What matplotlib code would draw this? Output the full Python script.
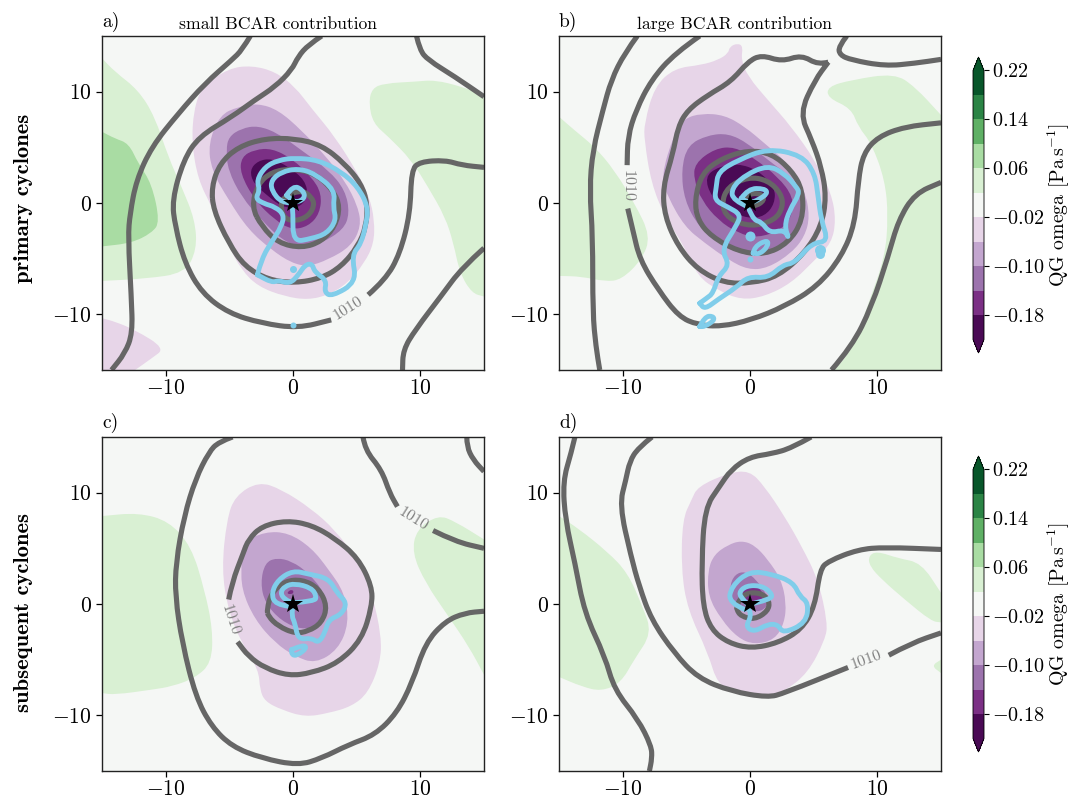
import numpy as np
import matplotlib
matplotlib.use('Agg')
import matplotlib.pyplot as plt
from matplotlib.colors import ListedColormap, BoundaryNorm
from matplotlib.path import Path
from matplotlib.patches import PathPatch
from matplotlib.colorbar import ColorbarBase

plt.rcParams['font.family'] = ['cmr10']
plt.rcParams['mathtext.fontset'] = 'cm'
plt.rcParams['axes.formatter.use_mathtext'] = True
plt.rcParams['axes.unicode_minus'] = True

levels = [-0.22, -0.18, -0.14, -0.10, -0.06, -0.02, 0.02, 0.06, 0.10, 0.14, 0.18, 0.22]
band_colors = ['#4a0a55', '#7b3085', '#9c73ad', '#c3a6cf', '#e7d5e8', '#f5f7f5',
               '#d9f0d3', '#a9dca3', '#5fb065', '#2b8445', '#08562a']
cbar_ticks = [-0.18, -0.10, -0.02, 0.06, 0.14, 0.22]
cbar_labels = ['$-0.18$', '$-0.10$', '$-0.02$', '$0.06$', '$0.14$', '$0.22$']
axis_ticks = [-10, 0, 10]
axis_labels = ['$-10$', '$0$', '$10$']

# ---------- panel a ----------
a_fills = [
 (0.04, [(-15,13.0),(-14.0,11.8),(-12.15,10.15),(-10.85,7.75),(-9.8,4.15),(-8.75,1.45),(-7.7,-1.5),(-7.55,-4.2),(-8.5,-6.3),(-11.6,-6.8),(-15,-7.0)]),
 (0.08, [(-15,6.4),(-14,5.8),(-12.9,5.35),(-12.15,3.55),(-11.1,1.75),(-10.45,-1.7),(-11.1,-2.7),(-12.7,-3.6),(-15,-3.9)]),
 (0.04, [(6.2,10.3),(7.2,10.75),(9.6,10.9),(11.15,11.05),(13.25,10.45),(15,9.7),(15,-8.4),(14.05,-8.1),(13.1,-6.3),(12.6,-3.6),(11.95,-1.25),(10.6,1.45),(9.3,3.85),(7.5,5.95),(6.3,7.15),(5.95,8.95)]),
 (-0.04, [(-15,-10.35),(-14,-10.65),(-12.4,-11.4),(-10.05,-13.05),(-11.1,-13.95),(-12.4,-15),(-15,-15)]),
 (-0.04, [(-5.05,12.1),(-3.25,12.35),(-1.4,11.8),(0.15,10.45),(1.45,8.5),(3.3,5.95),(5.1,2.65),(6.0,0.55),(6.4,-1.55),(6.35,-3.65),(5.6,-5.4),(4.3,-7.2),(2.8,-8.25),(1.2,-8.7),(-0.65,-8.4),(-2.75,-7.5),(-4.05,-6.0),(-5.05,-3.9),(-6.4,-0.3),(-7.45,2.1),(-7.95,5.35),(-7.8,8.35),(-7.15,10.45)]),
 (-0.08, [(-5.75,7.9),(-4.3,8.65),(-2.75,8.95),(-1.15,8.35),(0.65,6.55),(2.5,4.3),(4.05,2.05),(5.1,-0.3),(5.35,-2.1),(4.55,-3.9),(2.75,-5.1),(1.2,-5.7),(-0.1,-5.4),(-1.7,-4.2),(-3.5,-2.4),(-5.05,0.25),(-6.4,2.95),(-6.65,5.35)]),
 (-0.12, [(-5.05,5.95),(-4.05,6.7),(-2.75,6.95),(-1.15,6.25),(0.65,4.75),(2.8,2.95),(4.1,1.15),(4.45,-0.95),(3.95,-2.4),(2.25,-3.6),(0.7,-4.05),(-0.9,-3.3),(-2.45,-1.55),(-4.05,0.55),(-5.1,2.95),(-5.25,4.75)]),
 (-0.16, [(-4.05,4.15),(-3.0,4.8),(-1.65,4.9),(-0.1,4.0),(1.45,2.35),(2.25,0.85),(2.1,-0.95),(1.2,-2.1),(-0.1,-2.4),(-1.4,-1.55),(-3.0,0.25),(-4.15,2.65)]),
 (-0.20, [(-3.4,2.95),(-2.75,3.8),(-1.65,4.0),(-0.35,3.25),(0.95,2.05),(1.2,0.55),(0.4,-0.5),(-0.9,-0.35),(-2.2,0.85),(-3.1,1.75)]),
]
a_open = [
 [(-3.35,15),(-4.0,13.75),(-4.8,12.85),(-6.9,10.75),(-9.0,8.05),(-11.1,5.05),(-12.3,2.05),(-12.8,-0.95),(-12.95,-3.05),(-12.7,-8.4),(-12.6,-11.7),(-13.2,-13.5),(-14.25,-15)],
 [(2.25,15),(1.2,14.2),(0.4,13.15),(-0.1,11.95),(-1.4,10.45),(-3.0,9.25),(-4.8,7.75),(-7.4,5.95),(-8.6,3.85),(-9.5,0.25),(-9.25,-2.1),(-8.5,-5.4),(-7.15,-8.1),(-5.05,-9.9),(-2.45,-10.8),(0.4,-11.25),(3.0,-10.5)],
 [(5.9,-8.25),(7.25,-6.9),(8.4,-4.55),(9.2,-0.95),(9.3,2.95),(9.95,3.7),(11.95,3.85),(13.25,3.4),(15,3.2)],
 [(9.7,15),(9.95,13.75),(10.6,12.85),(12.7,11.35),(15,9.55)],
 [(15,-4.05),(13.25,-5.85),(11.7,-8.25),(9.6,-11.4),(8.65,-13.2),(8.6,-15)],
]
a_closed = [
 [(-6.4,1.45),(-5.75,3.55),(-4.3,5.05),(-2.2,5.8),(0.15,5.8),(2.25,5.2),(4.05,3.55),(5.35,1.75),(5.85,-0.05),(5.75,-2.1),(5.1,-3.9),(3.8,-5.7),(2.25,-6.75),(0.15,-7.2),(-1.95,-6.9),(-3.8,-5.7),(-5.05,-3.6),(-6.25,-0.65)],
 [(-3.25,-0.35),(-2.75,1.75),(-1.65,2.8),(-0.1,3.1),(1.75,2.65),(3.15,1.15),(3.7,-0.35),(3.3,-2.1),(2.25,-3.45),(0.7,-4.05),(-1.15,-3.6),(-2.45,-2.1)],
 [(-1.0,0),(-0.5,0.7),(0.7,1.15),(1.45,0.55),(1.7,-0.2),(1.2,-1.2),(0.15,-1.65),(-0.75,-1.35)],
]
a_blue = [
 [(-2.8,-6.45),(-2.45,-4.95),(-1.65,-3.45),(-0.9,-2.1),(-0.7,-1.05),(-1.4,-0.35),(-2.3,-0.05),(-2.95,0.4),(-2.6,1.15),(-2.85,2.05),(-2.2,3.25),(-1.15,3.85),(0.15,4.05),(2.0,3.85),(3.8,2.8),(5.1,1.45),(5.9,-0.35),(5.75,-1.85),(5.35,-3.65),(4.6,-4.7),(5.0,-7.1),(3.05,-8.4),(2.45,-8.0),(2.65,-6.95),(1.7,-6.2),(1.5,-5.45),(0.95,-5.55),(0.4,-6.5),(-0.25,-7.25),(-1.15,-6.95),(-1.65,-7.15),(-2.8,-6.45)],
 [(-0.1,0),(-0.9,0),(-1.7,1.15),(-1.7,2.05),(-0.9,2.8),(0.4,3.1),(1.7,2.65),(3.3,1.15),(3.15,-0.35),(3.4,-1.55),(2.65,-2.75),(1.45,-3.2),(0.0,-3.5),(0.0,-0.8),(-0.1,0)],
 [(-0.5,0.7),(0,1.6),(0.8,1.15),(0.95,0.4),(0.15,0),(-0.5,0.7)],
]
a_dots = [(0,-5.95,7),(0,-10.95,6)]
a_label = [(4.35,-9.45,32)]

# ---------- panel b ----------
b_fills = [
 (0.04, [(-15,7.75),(-13.8,6.55),(-12.2,5.05),(-10.65,2.95),(-9.05,-0.05),(-7.8,-3.0),(-8.5,-5.1),(-10.1,-6.9),(-11.4,-7.05),(-13.25,-6.6),(-15,-6.55)]),
 (0.04, [(6.1,10.45),(7.95,11.05),(11.35,11.65),(12.95,10.45),(15,7.9),(15,-15),(6.65,-15),(8.0,-13.2),(9.3,-9.0),(10.6,-4.85),(10.85,-1.2),(10.6,2.05),(9.55,5.35),(8.5,6.85),(7.95,8.5),(6.1,9.45)]),
 (-0.04, [(-1.6,14.05),(-0.95,14.35),(-0.55,14.05),(-0.7,12.85),(-0.15,11.35),(1.4,9.25),(3.25,6.85),(5.1,3.85),(6.4,0.85),(6.75,-1.55),(6.4,-3.6),(5.1,-5.1),(3.25,-7.2),(1.15,-8.4),(-0.7,-8.7),(-2.5,-7.85),(-4.1,-6.6),(-5.15,-3.9),(-6.7,-1.2),(-7.75,1.75),(-8.3,5.65),(-8.3,7.15),(-7.5,10.45),(-5.95,12.1),(-3.8,12.4),(-2.5,12.85),(-1.7,13.45)]),
 (-0.08, [(-5.15,7.6),(-3.8,8.05),(-2.0,7.9),(-0.4,6.85),(1.15,5.35),(3.0,3.55),(4.3,1.15),(4.7,-1.2),(4.3,-3.0),(3.25,-4.5),(1.4,-5.85),(-0.15,-6.0),(-1.7,-5.1),(-3.55,-3.6),(-5.15,-2.1),(-6.45,0.55),(-7.0,2.35),(-5.95,6.25)]),
 (-0.12, [(-4.9,5.2),(-3.3,6.1),(-1.7,6.25),(-0.15,5.35),(1.4,3.85),(3.25,2.35),(4.05,0.55),(4.3,-0.65),(3.75,-2.7),(2.2,-4.2),(0.6,-4.8),(-0.95,-4.5),(-2.5,-3.6),(-4.05,-2.1),(-5.15,0.25),(-5.4,2.95)]),
 (-0.16, [(-4.35,3.55),(-2.75,4.9),(-1.2,5.05),(0.35,4.0),(2.2,2.35),(3.4,0.55),(3.3,-1.2),(2.45,-2.4),(0.6,-3.15),(-0.95,-2.7),(-2.5,-1.55),(-3.8,0.25),(-4.4,2.05)]),
 (-0.20, [(-3.55,2.35),(-2.5,3.25),(-0.95,3.55),(0.6,2.95),(1.95,1.45),(1.95,-0.05),(1.15,-1.2),(-0.15,-1.4),(-1.75,-0.65),(-3.05,0.55)]),
]
b_open = [
 [(-8.85,15),(-9.85,13.45),(-10.9,11.05),(-11.55,8.35),(-12.35,4.75),(-12.6,1.2),(-12.35,-3.0),(-12.35,-9.9),(-12.1,-12.9),(-11.8,-15)],
 [(-3.95,15),(-5.9,13.45),(-7.75,11.05),(-8.95,8.35),(-9.6,5.95),(-9.65,3.4)],
 [(-9.6,-0.5),(-9.2,-2.45),(-8.65,-5.1),(-7.2,-7.8),(-5.6,-10.2),(-4.1,-10.95),(-2.25,-11.1),(0.1,-10.5),(2.7,-9.3),(5.3,-7.5),(7.2,-4.8),(8.25,-1.85),(8.5,2.05),(8.9,4.45),(10.05,5.95),(12.15,6.85),(15,7.2)],
 [(6.15,12.65),(5.35,12.4),(4.05,13.3),(2.5,12.7),(0.9,13.3),(-0.15,12.7),(-1.5,10.9),(-3.3,9.7),(-4.9,8.35),(-5.65,6.85),(-6.05,4.45),(-6.85,1.45),(-6.7,-1.2),(-5.65,-3.9),(-4.1,-6.0),(-2.0,-7.2),(0.1,-7.2),(2.2,-6.6),(4.3,-4.5),(5.6,-2.1),(6.0,0.55),(5.6,3.25),(4.85,5.65),(3.9,8.05),(5.1,11.05),(6.15,12.65)],
 [(7.6,15),(6.95,14.05),(7.05,13.3),(7.95,12.85),(10.6,12.3),(12.95,12.55),(15,12.9)],
 [(6.4,-15),(8.0,-12.9),(9.55,-9.3),(10.85,-4.8),(11.65,-1.55),(12.95,0.85),(15,1.85)],
]
b_closed = [
 [(-4.35,0.25),(-3.8,2.65),(-2.25,4.0),(-0.15,4.75),(1.7,4.45),(3.25,2.95),(4.15,1.15),(4.15,-1.55),(3.0,-3.6),(1.15,-4.65),(-0.95,-4.35),(-3.05,-3.0),(-4.1,-1.55)],
 [(-2.25,-0.05),(-1.75,1.45),(-0.15,2.35),(1.4,2.05),(2.45,0.85),(2.6,-0.35),(1.95,-1.55),(0.1,-2.15),(-1.75,-1.4)],
 [(-0.7,0),(-0.15,0.85),(0.9,0.85),(1.15,0.25),(0.35,-0.35)],
]
b_blue = [
 [(-3.95,-9.0),(-3.4,-8.55),(-2.9,-8.1),(-2.5,-6.6),(-1.6,-5.55),(-2.25,-4.2),(-1.1,-2.1),(-0.7,-1.05),(-1.75,-0.35),(-2.8,0.25),(-2.65,1.45),(-2.5,2.8),(-0.95,3.85),(1.4,4.9),(4.05,4.3),(5.1,2.65),(5.35,0.55),(5.6,-1.55),(6.15,-3.45),(4.85,-3.6),(3.5,-5.4),(2.6,-5.55),(1.4,-6.75),(-0.15,-6.6),(-1.1,-7.6),(-2.5,-8.65),(-3.55,-9.55),(-3.95,-9.0)],
 [(-0.15,-0.35),(-1.35,0.25),(-1.45,1.3),(-0.4,2.5),(1.4,3.4),(2.7,2.65),(3.65,1.45),(3.9,0.85),(3.1,-0.65),(2.7,-2.1),(3.1,-3.3),(2.7,-2.4),(1.55,-2.7),(0.9,-1.7),(0.35,-1.55),(-0.05,-0.65)],
 [(-0.7,0.4),(-0.15,1.3),(1.15,1.3),(1.4,0.85),(0.6,0.25),(0,0),(-0.7,0.4)],
 [(0.25,-4.5),(0.35,-3.9),(1.4,-3.3),(1.4,-3.9),(0.75,-4.6),(0.25,-4.5)],
 [(-3.95,-11.1),(-3.55,-10.2),(-2.9,-10.15),(-2.8,-10.55),(-3.55,-11.1),(-3.95,-11.1)],
]
b_dots = [(0,-2.95,10),(0,-5.0,6),(5.5,-4.2,11),(5.5,-4.6,9)]
b_label = [(-9.65,1.5,-90)]

# ---------- panel c ----------
c_fills = [
 (0.04, [(-15,7.9),(-12.15,8.2),(-9.75,7.45),(-8.0,5.2),(-6.95,1.3),(-6.3,-2.3),(-6.4,-5.3),(-7.7,-6.65),(-9.5,-7.4),(-11.1,-7.7),(-14,-8.15),(-15,-8.0)]),
 (0.04, [(11.4,8.0),(12.75,7.4),(15,5.8),(15,-6.35),(13.8,-3.8),(12.2,-1.1),(10.4,1.9),(9.35,4.6),(9.7,6.7)]),
 (-0.04, [(-2.7,11.0),(-0.9,10.3),(1.45,8.55),(3.3,6.65),(5.1,3.95),(6.2,1.0),(6.95,-2.9),(6.85,-5.3),(5.9,-8.0),(4.6,-9.2),(2.8,-9.8),(0.95,-10.15),(-0.9,-9.5),(-2.2,-8.75),(-2.6,-7.7),(-2.7,-5.9),(-4.05,-3.5),(-5.1,-0.5),(-5.6,3.1),(-5.2,7.6),(-4.55,9.7)]),
 (-0.08, [(-4.05,5.5),(-2.2,6.5),(-0.35,6.4),(1.45,5.05),(2.8,3.1),(4.05,1.0),(4.4,-1.7),(3.55,-4.1),(1.75,-5.35),(0.15,-4.7),(-1.4,-3.5),(-3.0,-1.4),(-4.05,1.3),(-4.05,3.7)]),
 (-0.12, [(-2.2,3.7),(-1.3,4.15),(-0.1,3.85),(1.2,2.8),(2.5,1.0),(2.5,-0.8),(1.75,-2.0),(0.7,-2.3),(-0.9,-1.55),(-2.2,0.1),(-2.55,1.9)]),
 (-0.16, [(-0.5,1.0),(-0.1,1.35),(0.1,1.0),(-0.25,0.85)]),
]
c_open = [
 [(-4.75,15),(-5.85,14.55),(-6.6,13.65),(-7.65,11.25),(-8.55,7.9),(-9.2,3.7),(-9.25,0.7),(-8.7,-3.5),(-7.65,-8.3),(-6.4,-11.0),(-4.8,-12.8),(-2.45,-13.85),(0.4,-14.5),(2.25,-13.85),(4.35,-12.65),(6.45,-11.75),(8.15,-9.8),(9.35,-7.1),(10.4,-3.5),(11.95,-1.55),(13.5,-0.8),(15,-0.65)],
 [(5.5,15),(5.65,13.85),(6.95,12.05),(7.6,9.95),(8.2,8.75)],
 [(11.0,6.6),(12.75,5.6),(15,5.0)],
 [(13.65,15),(13.65,14.15),(14.15,12.95),(15,11.9)],
 [(-5.05,0.4),(-4.8,1.9),(-3.9,4.6),(-3.5,5.8),(-2.45,7.0),(-0.5,7.5),(1.45,7.1),(3.3,5.9),(5.1,4.15),(6.2,1.6),(6.2,-0.2),(5.4,-3.2),(3.55,-5.3),(1.45,-6.2),(-0.35,-6.45),(-2.2,-5.75),(-3.5,-4.7),(-4.35,-3.4)],
]
c_closed = [
 [(-2.05,-0.5),(-1.7,1.0),(-0.65,2.05),(0.7,2.2),(2.0,1.45),(2.7,-0.2),(2.25,-1.7),(1.2,-2.45),(0.15,-2.65),(-1.15,-2.0),(-1.95,-1.1)],
]
c_blue = [
 [(-0.35,-0.2),(-1.4,-0.05),(-1.7,1.0),(-1.15,2.2),(0.0,3.0),(1.2,2.7),(2.8,2.3),(3.45,1.0),(4.25,0.1),(3.8,-0.95),(2.8,-1.4),(2.5,-2.6),(2.0,-3.5),(1.45,-3.05),(0.4,-3.2),(0.15,-1.7),(-0.1,-1.1),(0.0,-0.05)],
 [(0,0.1),(1.7,0.25),(1.85,0.7),(1.45,1.45),(0.15,1.85),(-0.65,1.6),(-1.0,1.0),(-0.65,0.4),(0,0.1)],
 [(-0.1,-4.1),(0.8,-3.65),(1.1,-3.95),(0.3,-4.65),(-0.1,-4.55),(-0.1,-4.1)],
]
c_dots = []
c_label = [(9.45,7.65,-32),(-4.95,-1.45,-72)]

# ---------- panel d ----------
d_fills = [
 (0.04, [(-15,7.9),(-13.5,6.8),(-11.2,4.7),(-9.6,2.8),(-8.45,-0.2),(-7.7,-2.6),(-9.1,-5.0),(-10.15,-7.1),(-11.7,-7.85),(-13.25,-7.4),(-15,-6.55)]),
 (0.04, [(9.3,4.3),(9.95,4.75),(11.65,4.1),(13.45,3.7),(15,1.0),(15,-1.65),(14.25,-1.55),(12.15,0.4),(10.35,2.2),(9.4,3.4)]),
 (0.04, [(15,-5.0),(14.25,-5.55),(15,-6.2)]),
 (-0.04, [(-4.1,10.55),(-1.75,11.75),(-0.05,12.0),(1.15,10.55),(2.7,7.9),(4.05,5.2),(5.35,2.2),(6.1,-1.7),(5.9,-3.2),(4.55,-6.2),(2.7,-7.85),(1.15,-8.6),(-0.95,-8.0),(-2.55,-7.25),(-3.3,-4.4),(-4.9,-0.5),(-5.4,3.1),(-5.3,7.6),(-4.6,9.35)]),
 (-0.08, [(-3.3,3.1),(-2.8,4.45),(-1.75,5.3),(-0.7,5.7),(0.35,5.3),(1.4,4.0),(2.45,2.2),(2.85,0.1),(2.7,-1.7),(1.95,-3.2),(0.35,-3.65),(-0.95,-3.05),(-2.25,-1.4),(-3.3,0.7)]),
 (-0.12, [(-1.6,1.6),(-1.2,2.65),(-0.4,2.95),(0.5,2.2),(1.4,0.7),(1.4,-0.2),(0.6,-0.8),(-0.7,-0.2),(-1.45,0.4)]),
 (-0.16, [(-0.7,1.45),(0.1,1.9),(0.9,1.3),(1.15,0.4),(0.1,0.1),(-0.55,0.55)]),
]
d_open = [
 [(-13.75,15),(-14.05,13.55),(-14.7,11.0),(-14.5,7.55),(-13.75,3.7),(-13.0,-0.8),(-11.4,-4.7),(-10.65,-7.7),(-8.8,-10.35),(-7.75,-12.75),(-7.7,-13.85),(-7.9,-15)],
 [(-7.7,15),(-8.8,14.0),(-9.45,12.8),(-9.75,11.15),(-10.25,8.9),(-9.35,4.3),(-8.7,1.6),(-7.75,-1.4),(-5.95,-4.4),(-4.1,-6.65),(-1.45,-7.85),(1.4,-8.4),(2.7,-8.0),(7.7,-5.7)],
 [(10.9,-4.6),(12.7,-3.5),(15,-2.6)],
 [(4.8,15),(3.25,14.0),(1.7,13.5),(-0.05,13.2),(-1.5,12.05),(-2.4,10.55),(-3.55,8.6),(-3.8,3.7),(-3.7,-0.2),(-3.05,-2.3),(-1.7,-3.5),(0.1,-4.0),(2.2,-3.5),(4.05,-2.3),(5.1,-0.2),(5.5,3.1),(6.15,3.85),(8.5,4.9),(10.6,5.1),(15,4.9)],
]
d_closed = [
 [(-1.05,-0.05),(-0.4,1.0),(0.9,1.0),(1.55,0.25),(1.4,-0.65),(0.35,-1.4),(-0.7,-1.1),(-1.05,-0.5)],
]
d_blue = [
 [(-0.4,-0.5),(-1.7,0.1),(-1.45,1.6),(-0.05,2.95),(1.7,2.7),(3.4,1.95),(3.9,0.7),(4.6,0.1),(4.4,-1.7),(2.6,-2.65),(2.2,-1.85),(1.4,-1.8),(0.35,-2.5),(-0.35,-2.05),(0.1,-1.1),(-0.15,-0.2)],
 [(-0.15,-0.05),(1.7,0.4),(1.7,1.0),(0.9,1.65),(-0.3,1.65),(-0.9,1.0),(-0.55,0.4),(-0.15,-0.05)],
]
d_dots = []
d_label = [(9.1,-5.0,20)]

GRAY = '#666666'
BLUE = '#80cdea'
W, H = 1070, 797

cmap = ListedColormap(band_colors)
cmap.set_under(band_colors[0])
cmap.set_over(band_colors[-1])
norm = BoundaryNorm(levels, cmap.N)


def hard(p):
    return abs(p[0]) >= 15 or abs(p[1]) >= 15


def smooth(pts, closed):
    pts = [np.array(p, float) for p in pts]
    n = len(pts)
    verts, codes = [], []
    if closed:
        m = (pts[-1] + pts[0]) / 2
        verts.append(m); codes.append(Path.MOVETO)
        for i, p in enumerate(pts):
            m = (p + pts[(i + 1) % n]) / 2
            if hard(p):
                verts += [p, m]; codes += [Path.LINETO, Path.LINETO]
            else:
                verts += [p, m]; codes += [Path.CURVE3, Path.CURVE3]
    else:
        verts.append(pts[0]); codes.append(Path.MOVETO)
        for i in range(1, n - 1):
            m = (pts[i] + pts[i + 1]) / 2
            verts += [pts[i], m]; codes += [Path.CURVE3, Path.CURVE3]
        verts.append(pts[-1]); codes.append(Path.LINETO)
    return Path(np.array(verts), codes)


def axes_px(x0, y0, x1, y1):
    return [x0 / W, 1 - y1 / H, (x1 - x0) / W, (y1 - y0) / H]


def draw(ax, fills, opened, closed, blue, dots, labels):
    ax.set_facecolor(band_colors[5])
    for val, pts in fills:
        ax.add_patch(PathPatch(smooth(pts, True), fc=cmap(norm(val)), ec='none', zorder=1))
    for pts in opened:
        ax.add_patch(PathPatch(smooth(pts, False), fc='none', ec=GRAY, lw=3.7, capstyle='butt', zorder=2))
    for pts in closed:
        ax.add_patch(PathPatch(smooth(pts, True), fc='none', ec=GRAY, lw=3.7, zorder=2))
    for pts in blue:
        ax.add_patch(PathPatch(smooth(pts, False), fc='none', ec=BLUE, lw=3.5,
                               joinstyle='round', capstyle='round', zorder=3))
    for x, y, s in dots:
        ax.plot([x], [y], 'o', color=BLUE, ms=s * 0.72, mew=0, zorder=3)
    for x, y, r in labels:
        ax.text(x, y, '1010', color='#808080', fontsize=11.5, rotation=r,
                rotation_mode='anchor', ha='center', va='center', zorder=4)
    ax.plot([0], [0], '*', color='k', ms=15, mew=0, zorder=5)
    ax.set_xlim(-15, 15)
    ax.set_ylim(-15, 15)
    ax.set_xticks(axis_ticks)
    ax.set_yticks(axis_ticks)
    ax.set_xticklabels(axis_labels)
    ax.set_yticklabels(axis_labels)
    ax.tick_params(axis='x', labelsize=15.5, length=4.5, width=0.9, pad=1.5)
    ax.tick_params(axis='y', labelsize=15.5, length=4.5, width=0.9, pad=3)
    for s in ax.spines.values():
        s.set_linewidth(1.0)
        s.set_color('#222222')
        s.set_zorder(10)


fig = plt.figure(figsize=(W / 100, H / 100), dpi=100)
ax_a = fig.add_axes(axes_px(102, 36, 484, 370))
ax_b = fig.add_axes(axes_px(559, 36, 941, 370))
ax_c = fig.add_axes(axes_px(102, 437, 484, 771))
ax_d = fig.add_axes(axes_px(559, 437, 941, 771))
draw(ax_a, a_fills, a_open, a_closed, a_blue, a_dots, a_label)
draw(ax_b, b_fills, b_open, b_closed, b_blue, b_dots, b_label)
draw(ax_c, c_fills, c_open, c_closed, c_blue, c_dots, c_label)
draw(ax_d, d_fills, d_open, d_closed, d_blue, d_dots, d_label)

for ax, t in zip([ax_a, ax_b, ax_c, ax_d], ['a)', 'b)', 'c)', 'd)']):
    ax.text(0, 1.012, t, transform=ax.transAxes, fontsize=14, ha='left', va='bottom')
ax_a.text(0.46, 1.012, 'small BCAR contribution', transform=ax_a.transAxes, fontsize=12.7, ha='center', va='bottom')
ax_b.text(0.46, 1.012, 'large BCAR contribution', transform=ax_b.transAxes, fontsize=12.7, ha='center', va='bottom')

fig.text(24 / W, 1 - 198 / H, 'primary cyclones', family='cmb10', fontsize=16.3, rotation=90, ha='center', va='center')
fig.text(24 / W, 1 - 613 / H, 'subsequent cyclones', family='cmb10', fontsize=16.3, rotation=90, ha='center', va='center')

for top in (57, 456):
    cax = fig.add_axes(axes_px(973, top, 984, top + 296))
    cb = ColorbarBase(cax, cmap=cmap, norm=norm, extend='both', extendfrac=0.05,
                      spacing='proportional', ticks=cbar_ticks, drawedges=False)
    cb.ax.set_yticklabels(cbar_labels)
    cb.ax.tick_params(labelsize=14.5, length=3.5, width=0.8, pad=2)
    cb.minorticks_off()
    cb.outline.set_linewidth(0.6)
    cb.set_label(r'QG omega $[\mathrm{Pa\,s}^{-1}]$', fontsize=14.3, labelpad=1)

fig.savefig('out.png', dpi=100)
